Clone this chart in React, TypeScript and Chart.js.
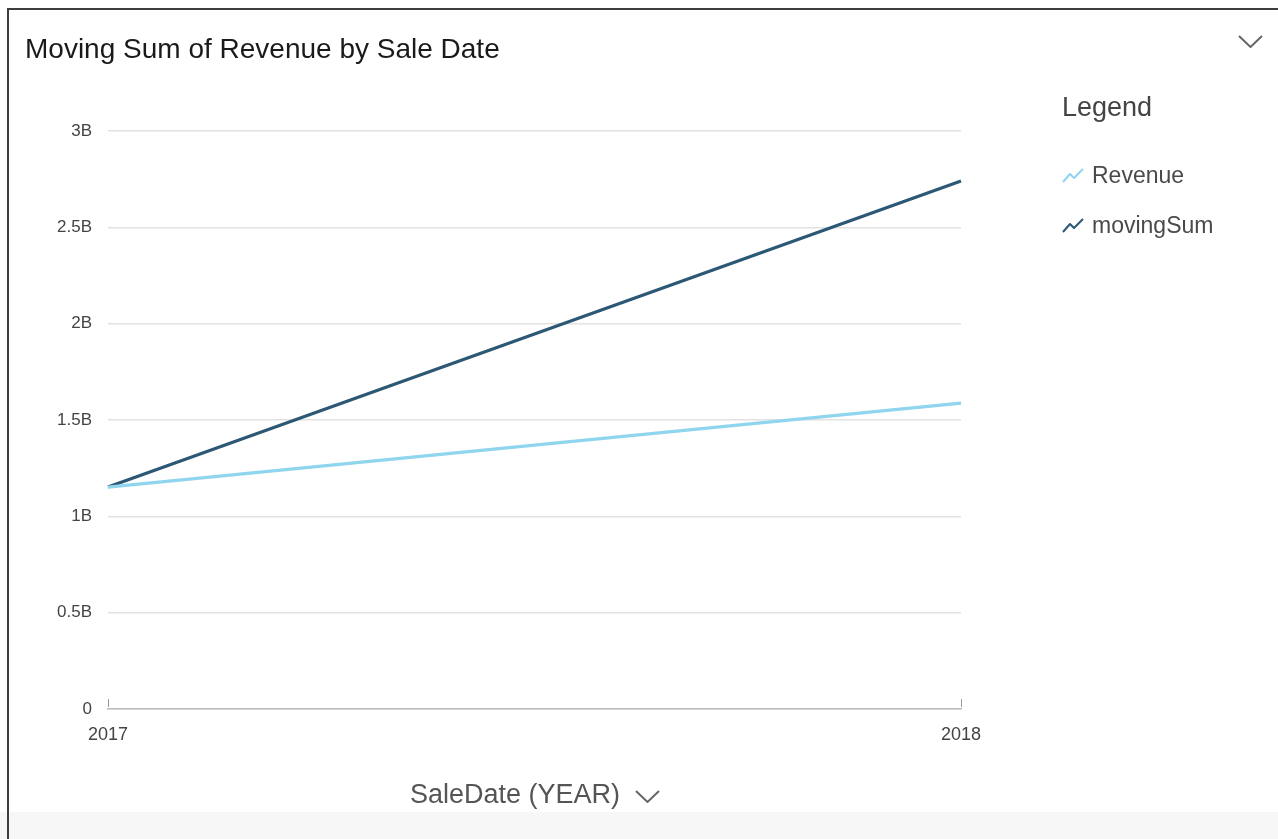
import React, { useEffect, useRef } from "react";
import { Chart, registerables } from "chart.js";

Chart.register(...registerables);

const categories: string[] = ["2017", "2018"];
const revenue: number[] = [1.152e9, 1.588e9];
const movingSum: number[] = [1.152e9, 2.74e9];
const seriesNames: string[] = ["Revenue", "movingSum"];
const seriesColors: string[] = ["#8fd5ee", "#2c5875"];
const yTickValues: number[] = [0, 0.5e9, 1e9, 1.5e9, 2e9, 2.5e9, 3e9];

const FONT = "'Liberation Sans', Arial, Helvetica, sans-serif";

const innerTicks = {
  id: "innerTicks",
  afterDraw(chart: any) {
    const xs = chart.scales.x;
    const ctx = chart.ctx;
    const bottom = chart.chartArea.bottom;
    ctx.save();
    ctx.strokeStyle = "#9a9a9a";
    ctx.lineWidth = 1;
    for (let i = 0; i < xs.ticks.length; i++) {
      const x = Math.round(xs.getPixelForTick(i)) + 0.5;
      ctx.beginPath();
      ctx.moveTo(x, bottom - 10);
      ctx.lineTo(x, bottom - 2);
      ctx.stroke();
    }
    ctx.restore();
  },
};

function Chevron({ w, h }: { w: number; h: number }) {
  return (
    <svg width={w} height={h} viewBox={`0 0 ${w} ${h}`} style={{ display: "block" }}>
      <polyline
        points={`1,1 ${w / 2},${h - 1} ${w - 1},1`}
        fill="none"
        stroke="#666"
        strokeWidth={2}
      />
    </svg>
  );
}

function TrendIcon({ color }: { color: string }) {
  return (
    <svg width={22} height={15} viewBox="0 0 22 15" style={{ display: "block" }}>
      <polyline
        points="1,14 8,6 12,10 21,1"
        fill="none"
        stroke={color}
        strokeWidth={2}
        strokeLinejoin="round"
      />
    </svg>
  );
}

export default function App() {
  const canvasRef = useRef<HTMLCanvasElement | null>(null);

  useEffect(() => {
    if (!canvasRef.current) return;
    Chart.defaults.font.family = FONT;
    const chart = new Chart(canvasRef.current, {
      type: "line",
      data: {
        labels: categories,
        datasets: [
          {
            label: seriesNames[0],
            data: revenue,
            borderColor: seriesColors[0],
            backgroundColor: seriesColors[0],
            borderWidth: 3.2,
            pointRadius: 0,
            tension: 0,
          },
          {
            label: seriesNames[1],
            data: movingSum,
            borderColor: seriesColors[1],
            backgroundColor: seriesColors[1],
            borderWidth: 3.2,
            pointRadius: 0,
            tension: 0,
          },
        ],
      },
      options: {
        animation: false,
        responsive: false,
        maintainAspectRatio: false,
        layout: { padding: { left: 0, right: 317, top: 131, bottom: 0 } },
        plugins: {
          legend: { display: false },
          title: { display: false },
          tooltip: { enabled: false },
        },
        scales: {
          x: {
            type: "category",
            offset: false,
            grid: { display: false, drawTicks: false },
            border: { display: true, color: "#bdbdbd", width: 1.5 },
            ticks: {
              color: "#444",
              font: { size: 18, family: FONT },
              padding: 15,
              maxRotation: 0,
              autoSkip: false,
            },
            afterFit(scale: any) {
              scale.height = 130;
            },
          },
          y: {
            min: 0,
            max: 3e9,
            afterBuildTicks(scale: any) {
              scale.ticks = yTickValues.map((v) => ({ value: v }));
            },
            grid: { color: "#e2e2e2", lineWidth: 1.5, drawTicks: false },
            border: { display: false },
            ticks: {
              color: "#444",
              font: { size: 17, family: FONT },
              padding: 16,
              callback: (v: any) => (Number(v) === 0 ? "0" : Number(v) / 1e9 + "B"),
            },
            afterFit(scale: any) {
              scale.width = 108;
            },
          },
        },
      },
      plugins: [innerTicks],
    } as any);
    return () => chart.destroy();
  }, []);

  return (
    <div
      style={{
        position: "fixed",
        left: 0,
        top: 0,
        width: 1278,
        height: 839,
        background: "#fff",
        fontFamily: FONT,
        overflow: "hidden",
      }}
    >
      <div
        style={{
          position: "absolute",
          left: 0,
          top: 812,
          width: 1278,
          height: 27,
          background: "#f7f7f7",
        }}
      />
      <div
        style={{
          position: "absolute",
          left: 7,
          top: 8,
          width: 1271,
          height: 831,
          borderLeft: "2px solid #3d3d3d",
          borderTop: "2px solid #3d3d3d",
          boxSizing: "border-box",
        }}
      />
      <canvas
        ref={canvasRef}
        width={1278}
        height={839}
        style={{ position: "absolute", left: 0, top: 0, width: 1278, height: 839 }}
      />
      <div
        style={{
          position: "absolute",
          left: 25,
          top: 35,
          fontSize: 28,
          lineHeight: 1,
          color: "#1a1a1a",
          whiteSpace: "nowrap",
        }}
      >
        Moving Sum of Revenue by Sale Date
      </div>
      <div style={{ position: "absolute", left: 1238, top: 35 }}>
        <Chevron w={25} h={13} />
      </div>
      <div
        style={{
          position: "absolute",
          left: 1062,
          top: 94,
          fontSize: 27,
          lineHeight: 1,
          color: "#444",
        }}
      >
        Legend
      </div>
      {seriesNames.map((name, i) => (
        <div
          key={name}
          style={{
            position: "absolute",
            left: 1062,
            top: 164 + i * 50,
            display: "flex",
            alignItems: "center",
            whiteSpace: "nowrap",
          }}
        >
          <TrendIcon color={seriesColors[i]} />
          <span style={{ marginLeft: 8, fontSize: 23, lineHeight: "23px", color: "#4a4a4a" }}>
            {name}
          </span>
        </div>
      ))}
      <div
        style={{
          position: "absolute",
          left: 410,
          top: 781,
          display: "flex",
          alignItems: "center",
          whiteSpace: "nowrap",
        }}
      >
        <span style={{ fontSize: 27, lineHeight: 1, color: "#555" }}>SaleDate (YEAR)</span>
        <span style={{ marginLeft: 15, marginTop: 4 }}>
          <Chevron w={25} h={13} />
        </span>
      </div>
    </div>
  );
}
